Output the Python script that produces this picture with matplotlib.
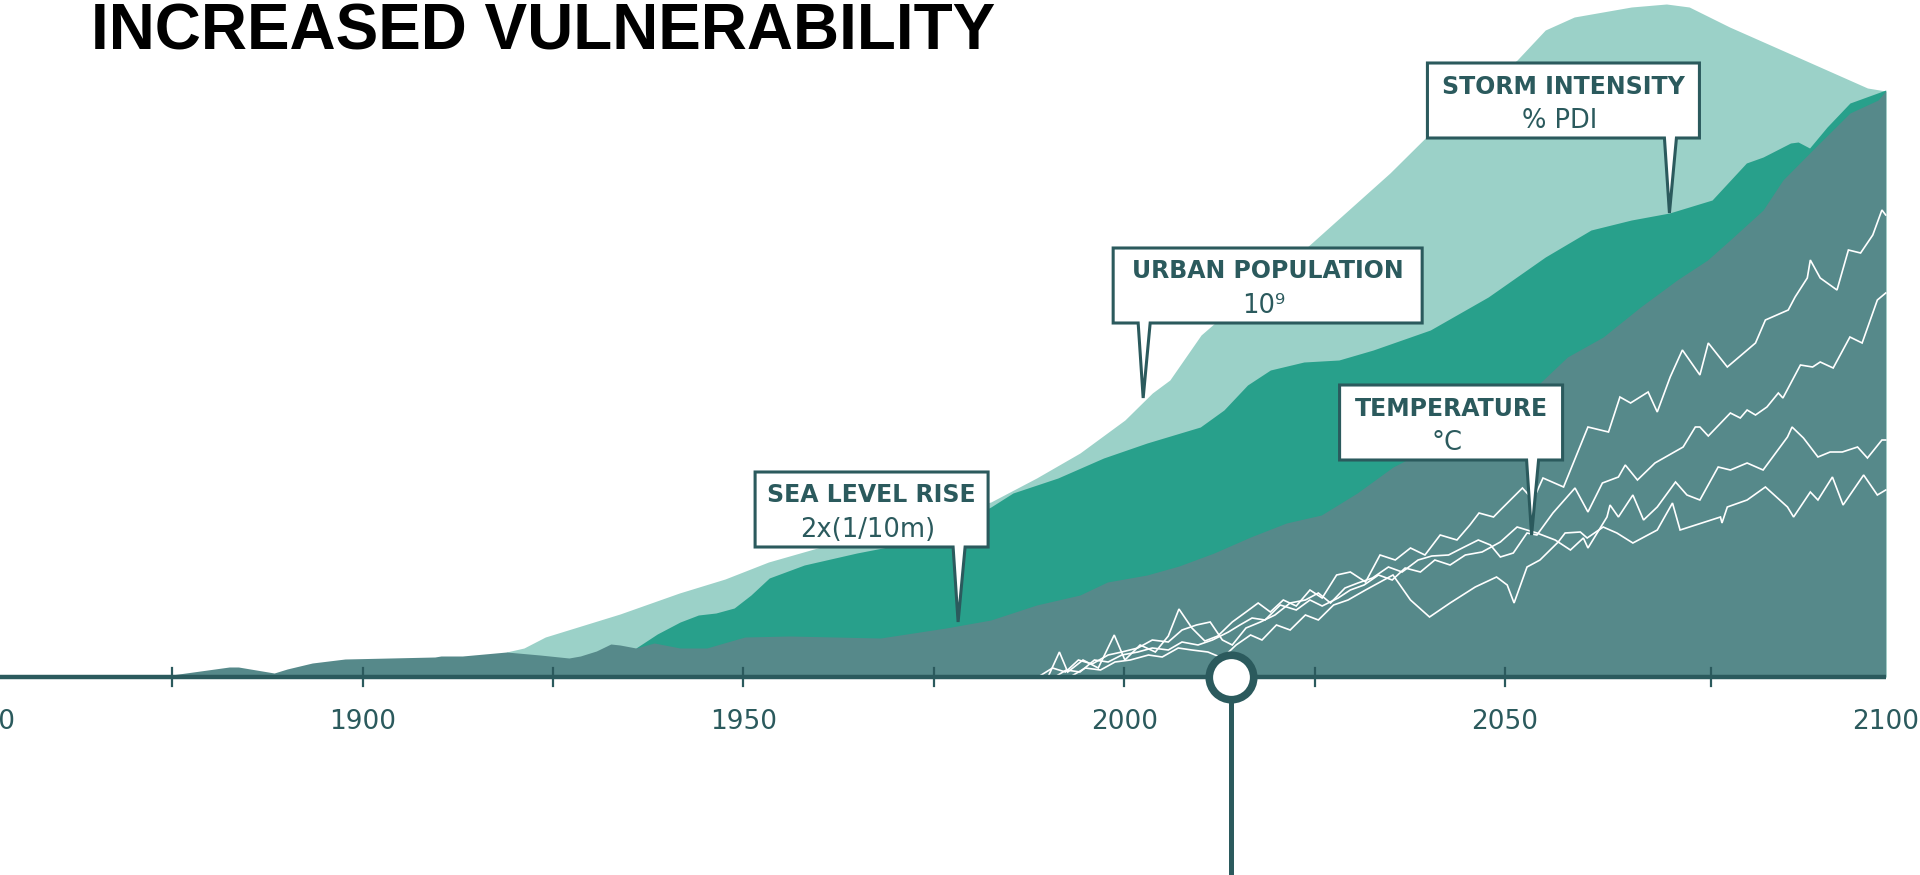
import matplotlib
matplotlib.use("Agg")
import matplotlib.pyplot as plt
from matplotlib.patches import Polygon
from matplotlib.transforms import IdentityTransform

# ---------------- data (years, index height above baseline) ----------------
sea_years = [1850, 1873.2, 1874.9, 1882.5, 1883.7, 1888.4, 1890.1, 1893.4, 1897.7, 1909.5,
             1910.3, 1913.1, 1918.9, 1923.3, 1927.1, 1928.6, 1930.7, 1932.6, 1933.8, 1935.9,
             1938.3, 1941.7, 1945.2, 1947.0, 1950.2, 1956.1, 1968.0, 1976.6, 1982.5, 1988.5,
             1994.2, 1997.8, 2003.0, 2007.2, 2011.8, 2016.6, 2021.3, 2025.9, 2030.6, 2035.3,
             2037.6, 2046.1, 2054.6, 2058.2, 2062.9, 2067.8, 2072.6, 2076.6, 2080.0, 2083.9,
             2086.5, 2090.8, 2095.3, 2099.0, 2100]
sea_vals = [0, 0, 2, 10, 10, 4, 8, 14, 18, 20,
            21, 21, 25, 22, 19, 21, 26, 33, 32, 29,
            34, 29, 29, 33, 40, 41, 39, 49, 57, 72,
            82, 95, 102, 111, 124, 140, 154, 162, 184, 210,
            219, 257, 294, 320, 340, 370, 397, 417, 440, 467,
            497, 530, 564, 577, 586]

urban_years = [1935.9, 1938.7, 1941.7, 1944.1, 1946.4, 1948.8, 1951.0, 1953.4, 1958.0, 1964.9,
               1973.7, 1982.5, 1985.4, 1991.3, 1997.3, 2003.0, 2010.0, 2013.1, 2016.2, 2019.2,
               2023.6, 2028.2, 2032.7, 2040.2, 2047.8, 2055.3, 2061.3, 2066.6, 2071.6, 2077.2,
               2081.7, 2083.9, 2087.5, 2088.5, 2090.0, 2092.3, 2095.3, 2100]
urban_vals = [29, 43, 55, 62, 64, 69, 82, 99, 112, 124,
              137, 170, 184, 199, 219, 234, 250, 267, 292, 307,
              315, 317, 327, 347, 380, 420, 447, 457, 464, 477,
              514, 520, 534, 535, 529, 550, 574, 587]

storm_years = [1918.9, 1921.2, 1924.0, 1933.8, 1941.6, 1947.6, 1953.3, 1968.0, 1982.5, 1988.5,
               1994.2, 2000.1, 2003.7, 2006.0, 2010.1, 2016.6, 2023.6, 2034.9, 2040.2, 2046.2,
               2051.6, 2055.3, 2059.1, 2066.6, 2071.2, 2074.2, 2079.5, 2089.3, 2097.6, 2100]
storm_vals = [25, 29, 40, 63, 84, 98, 115, 147, 175, 199,
              224, 257, 284, 297, 342, 385, 427, 504, 544, 585,
              617, 647, 660, 670, 673, 670, 650, 617, 589, 586]

tempA_years = [1990.0, 1991.5, 1992.6, 1994.6, 1996.6, 1998.7, 2000.1, 2002.1, 2004.1, 2005.8,
               2007.2, 2008.9, 2010.6, 2012.3, 2014.2, 2016.0, 2017.6, 2019.2, 2020.9, 2022.6,
               2024.4, 2026.0, 2027.9, 2029.7, 2031.7, 2033.6, 2035.6, 2037.6, 2039.5, 2041.5,
               2043.7, 2045.4, 2046.6, 2048.5, 2049.4, 2052.3, 2053.7, 2055.0, 2057.7, 2060.9,
               2063.6, 2065.1, 2066.5, 2068.8, 2070.0, 2071.7, 2073.3, 2075.6, 2076.7, 2079.2,
               2082.9, 2084.2, 2087.2, 2088.1, 2089.7, 2090.1, 2091.4, 2093.6, 2095.1, 2096.7,
               2098.3, 2099.5, 2100.0]
tempA_vals = [0, 25, 5, 17, 9, 42, 17, 32, 25, 41,
              68, 49, 36, 41, 55, 65, 74, 65, 77, 71,
              87, 79, 102, 105, 95, 122, 117, 129, 122, 142,
              137, 152, 164, 160, 167, 189, 177, 199, 190, 250,
              245, 280, 274, 285, 265, 300, 327, 302, 334, 310,
              334, 357, 367, 380, 399, 417, 399, 387, 427, 424,
              442, 467, 462]

tempB_years = [1988.7, 1990.6, 1992.3, 1994.0, 1995.8, 1997.9, 1999.7, 2001.8, 2003.7, 2005.8,
               2007.6, 2009.5, 2011.3, 2012.9, 2014.2, 2016.0, 2017.9, 2019.8, 2021.8, 2023.8,
               2025.5, 2027.1, 2029.0, 2030.7, 2032.6, 2034.7, 2036.5, 2038.6, 2040.4, 2042.6,
               2044.4, 2046.5, 2048.1, 2049.4, 2051.1, 2052.9, 2054.2, 2056.3, 2059.2, 2060.9,
               2062.8, 2064.9, 2065.8, 2067.4, 2069.7, 2073.4, 2075.0, 2075.6, 2076.7, 2079.6,
               2080.9, 2081.8, 2082.9, 2084.4, 2085.9, 2086.5, 2088.8, 2090.4, 2091.4, 2093.1,
               2095.3, 2096.9, 2098.9, 2100.0]
tempB_vals = [0, 9, 5, 17, 13, 22, 25, 29, 37, 35,
              47, 52, 55, 37, 32, 49, 55, 62, 74, 77,
              84, 74, 89, 94, 99, 110, 105, 117, 121, 122,
              129, 137, 132, 120, 124, 144, 142, 164, 189, 165,
              194, 200, 212, 197, 214, 230, 250, 250, 241, 264,
              259, 267, 262, 270, 284, 279, 312, 310, 315, 309,
              340, 334, 377, 384]

tempC_years = [1990.9, 1992.4, 1994.2, 1996.1, 1997.9, 1999.7, 2001.8, 2003.7, 2005.8, 2007.6,
               2009.7, 2011.6, 2013.7, 2015.2, 2016.8, 2018.5, 2020.5, 2022.6, 2024.4, 2026.0,
               2028.1, 2029.7, 2031.5, 2033.4, 2035.2, 2036.9, 2038.9, 2040.8, 2042.8, 2044.8,
               2047.0, 2049.4, 2051.6, 2054.2, 2056.6, 2058.6, 2060.3, 2060.9, 2063.4, 2063.8,
               2064.9, 2066.8, 2068.2, 2070.0, 2072.4, 2073.9, 2075.6, 2078.0, 2079.6, 2081.8,
               2083.9, 2087.1, 2087.7, 2089.2, 2091.1, 2092.7, 2094.3, 2096.3, 2097.6, 2099.5,
               2100.0]
tempC_vals = [0, 7, 5, 17, 15, 22, 25, 29, 27, 35,
              32, 37, 45, 52, 59, 57, 72, 67, 77, 71,
              79, 87, 92, 102, 97, 109, 105, 117, 112, 122,
              125, 135, 150, 144, 137, 127, 139, 129, 160, 172,
              160, 182, 157, 170, 195, 182, 177, 210, 207, 214,
              207, 240, 250, 239, 220, 225, 225, 230, 219, 237,
              237]

tempD_years = [1992.9, 1994.9, 1996.9, 1998.8, 2000.8, 2003.2, 2005.0, 2007.1, 2008.9, 2011.0,
               2012.9, 2014.7, 2016.6, 2018.1, 2020.0, 2021.8, 2023.8, 2025.5, 2027.5, 2029.4,
               2031.7, 2035.3, 2037.6, 2040.1, 2042.8, 2046.1, 2048.9, 2050.3, 2051.2, 2052.9,
               2054.6, 2057.0, 2057.9, 2059.9, 2060.8, 2062.9, 2064.7, 2066.8, 2070.0, 2072.0,
               2073.0, 2078.3, 2078.5, 2079.2, 2081.8, 2084.2, 2087.1, 2087.9, 2090.1, 2091.1,
               2093.0, 2094.4, 2097.1, 2098.9, 2100.0]
tempD_vals = [0, 9, 7, 15, 17, 22, 20, 29, 27, 25,
              19, 32, 42, 37, 52, 47, 62, 57, 72, 77,
              87, 102, 77, 60, 74, 90, 100, 92, 74, 110,
              117, 135, 144, 145, 139, 150, 144, 134, 147, 174,
              147, 160, 154, 170, 177, 190, 170, 160, 185, 177,
              200, 172, 202, 182, 187]

axis_label_years = [1850, 1900, 1950, 2000, 2050, 2100]
tick_years = [1875, 1900, 1925, 1950, 1975, 2000, 2025, 2050, 2077]
marker_year = 2014

# callouts: (tip year, tip value, box left px, box right px, title, subtitle)
callouts = [
    (1978.2, 55, -203, 30, "SEA LEVEL RISE", "2x(1/10m)"),
    (2002.5, 279, -30, 279, "URBAN POPULATION", "10⁹"),
    (2071.6, 464, -242, 30, "STORM INTENSITY", "% PDI"),
    (2053.5, 142, -192, 31, "TEMPERATURE", "°C"),
]

# ---------------- styling ----------------
LIGHT = "#9bd1c8"
MID = "#28a08b"
DARKFILL = "#56898a"
INK = "#2b5a5d"

fig = plt.figure(figsize=(19.2, 8.75), dpi=100)
fig.patch.set_facecolor("white")
ax = fig.add_axes([0, 0, 1, 1])
ax.set_xlim(1852.4, 2104.5)
ax.set_ylim(-198, 677)
ax.axis("off")

ax.fill_between(storm_years, 0, storm_vals, color=LIGHT, lw=0, zorder=1)
ax.fill_between(urban_years, 0, urban_vals, color=MID, lw=0, zorder=2)
ax.fill_between(sea_years, 0, sea_vals, color=DARKFILL, lw=0, zorder=3)

for xs, ys in [(tempA_years, tempA_vals), (tempB_years, tempB_vals),
               (tempC_years, tempC_vals), (tempD_years, tempD_vals)]:
    ax.plot(xs, ys, color="white", lw=1.2, zorder=4, solid_joinstyle="miter")

# baseline and ticks
ax.plot([1850, 2100], [0, 0], color=INK, lw=3.2, zorder=5, solid_capstyle="butt")
for ty in tick_years:
    ax.plot([ty, ty], [-9, 9], color=INK, lw=1.6, zorder=5)
for ly in axis_label_years:
    ax.text(ly, -45, str(ly), ha="center", va="center", fontsize=19,
            color=INK, family="DejaVu Sans", zorder=6)

# current-year marker
ax.plot([marker_year, marker_year], [0, -200], color=INK, lw=3.6, zorder=6,
        solid_capstyle="butt")
ax.plot([marker_year], [0], marker="o", ms=32, mfc="white", mec=INK, mew=5.5,
        zorder=7)

# callouts
ident = IdentityTransform()
for yr, val, left, right, title, sub in callouts:
    tx, ty = ax.transData.transform((yr, val))
    bottom = ty + 75
    top = ty + 150
    verts = [(tx, ty), (tx + 7, bottom), (tx + right, bottom), (tx + right, top),
             (tx + left, top), (tx + left, bottom), (tx - 5, bottom)]
    poly = Polygon(verts, closed=True, facecolor="white", edgecolor=INK,
                   lw=2.2, joinstyle="miter", zorder=10)
    poly.set_transform(ident)
    ax.add_patch(poly)
    cx = tx + (left + right) / 2.0
    ax.text(cx, ty + 119.5, title, transform=ident, ha="center", va="baseline",
            fontsize=17, fontweight="bold", color=INK, family="DejaVu Sans",
            zorder=11)
    ax.text(cx - 4, ty + 85, sub, transform=ident, ha="center", va="baseline",
            fontsize=18.5, color=INK, family="DejaVu Sans", zorder=11)

fig.text(91 / 1920, 1 - 50 / 875, "INCREASED VULNERABILITY", fontsize=46,
         fontweight="bold", family=["Liberation Sans", "DejaVu Sans"],
         color="black", va="baseline", ha="left")

fig.savefig("out.png", dpi=100, facecolor="white")
